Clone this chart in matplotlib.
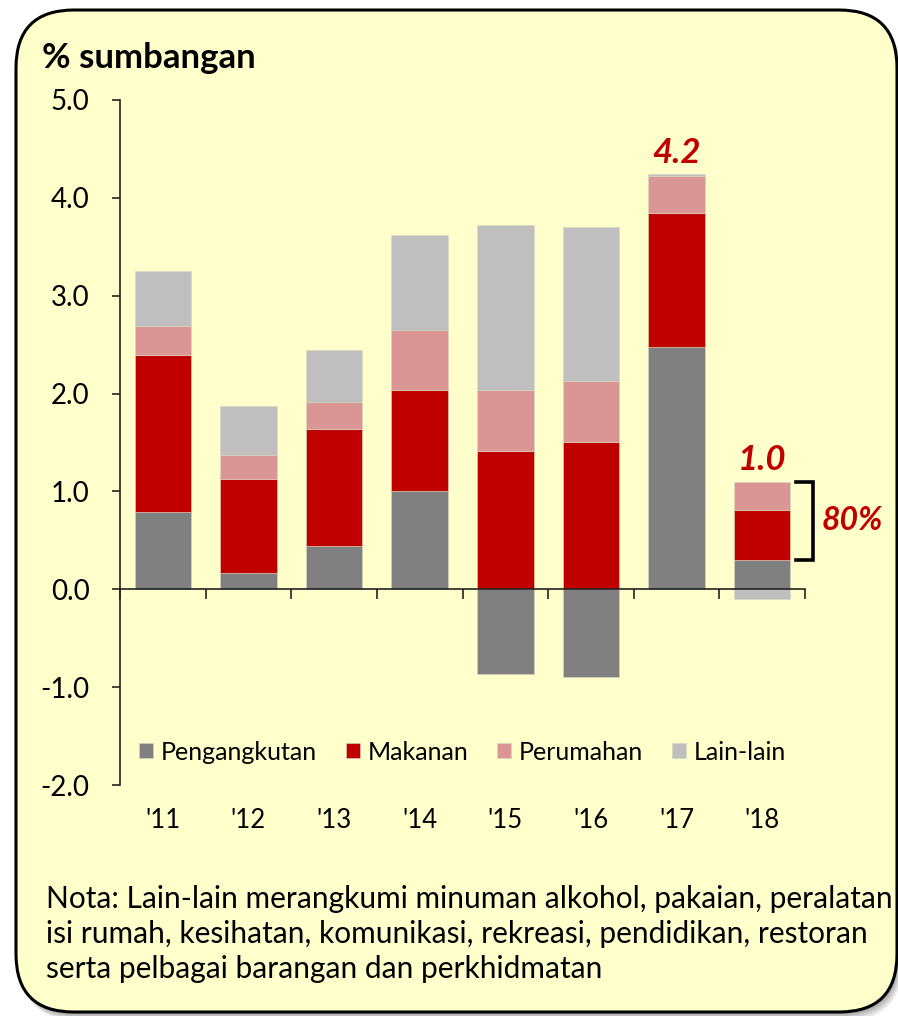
import numpy as np
import matplotlib
matplotlib.use("Agg")
import matplotlib.pyplot as plt
from matplotlib.patches import FancyBboxPatch

plt.rcParams["font.family"] = ["Lato", "DejaVu Sans"]

years = ["'11", "'12", "'13", "'14", "'15", "'16", "'17", "'18"]
series = ["Pengangkutan", "Makanan", "Perumahan", "Lain-lain"]
pengangkutan = [0.79, 0.17, 0.44, 1.00, -0.87, -0.90, 2.48, 0.30]
makanan = [1.60, 0.96, 1.20, 1.04, 1.41, 1.51, 1.37, 0.51]
perumahan = [0.30, 0.24, 0.27, 0.61, 0.63, 0.62, 0.37, 0.29]
lain_lain = [0.56, 0.50, 0.54, 0.97, 1.68, 1.57, 0.02, -0.10]
colors = ["#808080", "#C00000", "#DA9694", "#BFBFBF"]
yticks = [5.0, 4.0, 3.0, 2.0, 1.0, 0.0, -1.0, -2.0]
note = ("Nota: Lain-lain merangkumi minuman alkohol, pakaian, peralatan\n"
        "isi rumah, kesihatan, komunikasi, rekreasi, pendidikan, restoran\n"
        "serta pelbagai barangan dan perkhidmatan")
red = "#C00000"

W, H = 898, 1016
fig = plt.figure(figsize=(W / 100, H / 100), dpi=100)
fig.patch.set_facecolor("white")

# background panel in pixel coordinates
bg = fig.add_axes([0, 0, 1, 1], zorder=0)
bg.set_xlim(0, W)
bg.set_ylim(H, 0)
bg.axis("off")
for k, a in enumerate([0.10, 0.10, 0.12, 0.15, 0.2]):
    off = 9 - k * 1.6
    bg.add_patch(FancyBboxPatch((16 + off * 0.6, 10 + off), 881, 1002,
                                boxstyle="round,pad=0,rounding_size=58",
                                fc="#606060", ec="none", alpha=a))
bg.add_patch(FancyBboxPatch((16, 10), 881, 1002,
                            boxstyle="round,pad=0,rounding_size=58",
                            fc="#FFFFCC", ec="black", lw=2.2))

ax = fig.add_axes([120 / W, 1 - 785 / H, 685 / W, 685 / H], zorder=1)
ax.patch.set_alpha(0)

data = np.array([pengangkutan, makanan, perumahan, lain_lain])
x = np.arange(len(years))
pos_base = np.zeros(len(years))
neg_base = np.zeros(len(years))
for vals, name, c in zip(data, series, colors):
    base = np.where(vals >= 0, pos_base, neg_base)
    ax.bar(x, vals, width=0.66, bottom=base, color=c, label=name,
           edgecolor="#d8d8c0", linewidth=0.4, zorder=2)
    pos_base += np.where(vals >= 0, vals, 0)
    neg_base += np.where(vals < 0, vals, 0)

ax.set_xlim(-0.5, len(years) - 0.5)
ax.set_ylim(-2, 5)
ax.set_yticks(yticks)
ax.set_yticklabels([f"{v:.1f}" for v in yticks], fontsize=20)
ax.tick_params(axis="y", direction="out", length=6, width=1.2, pad=16,
               color="#222222")
ax.set_xticks(np.arange(len(years) + 1) - 0.5)
ax.set_xticklabels([])
ax.tick_params(axis="x", direction="out", length=7, width=1.2, color="#222222")
for s in ["top", "right"]:
    ax.spines[s].set_visible(False)
ax.spines["bottom"].set_position(("data", 0))
ax.spines["bottom"].set_zorder(3)
for s in ["left", "bottom"]:
    ax.spines[s].set_color("#222222")
    ax.spines[s].set_linewidth(1.2)

for xi, lab in zip(x, years):
    ax.text(xi, -0.033, lab, transform=ax.get_xaxis_transform(),
            ha="center", va="top", fontsize=18.5)

# totals above the last two bars
net = data.sum(axis=0)
for i in [6, 7]:
    ax.annotate(f"{net[i]:.1f}", (x[i], pos_base[i]), xytext=(0, 4),
                textcoords="offset points", ha="center", va="bottom",
                fontsize=25, fontweight="bold", fontstyle="italic", color=red)

# bracket over food + housing share in the last year
i = 7
lo, hi = pengangkutan[i], pengangkutan[i] + makanan[i] + perumahan[i]
bx0, bx1 = i + 0.40, i + 0.59
ax.plot([bx0, bx1, bx1, bx0], [hi, hi, lo, lo], color="black", lw=2.6,
        clip_on=False, solid_joinstyle="miter", zorder=4)
share = (makanan[i] + perumahan[i]) / net[i] * 100
ax.text(bx1 + 0.1, (lo + hi) / 2, f"{share:.0f}%", ha="left", va="center",
        fontsize=23, fontweight="bold", fontstyle="italic", color=red,
        clip_on=False)

ax.legend(loc="center", bbox_to_anchor=(0.5, 0.048), ncol=4, frameon=False,
          fontsize=18, handlelength=0.55, handleheight=0.55,
          handletextpad=0.32, columnspacing=1.15, borderaxespad=0)

fig.text(42 / W, 1 - 58 / H, "% sumbangan", fontsize=25, fontweight="bold",
         ha="left", va="center")
fig.text(46 / W, 1 - 934 / H, note, fontsize=21.5, ha="left", va="center",
         linespacing=1.3)

fig.savefig("out.png", dpi=100, facecolor="white")
